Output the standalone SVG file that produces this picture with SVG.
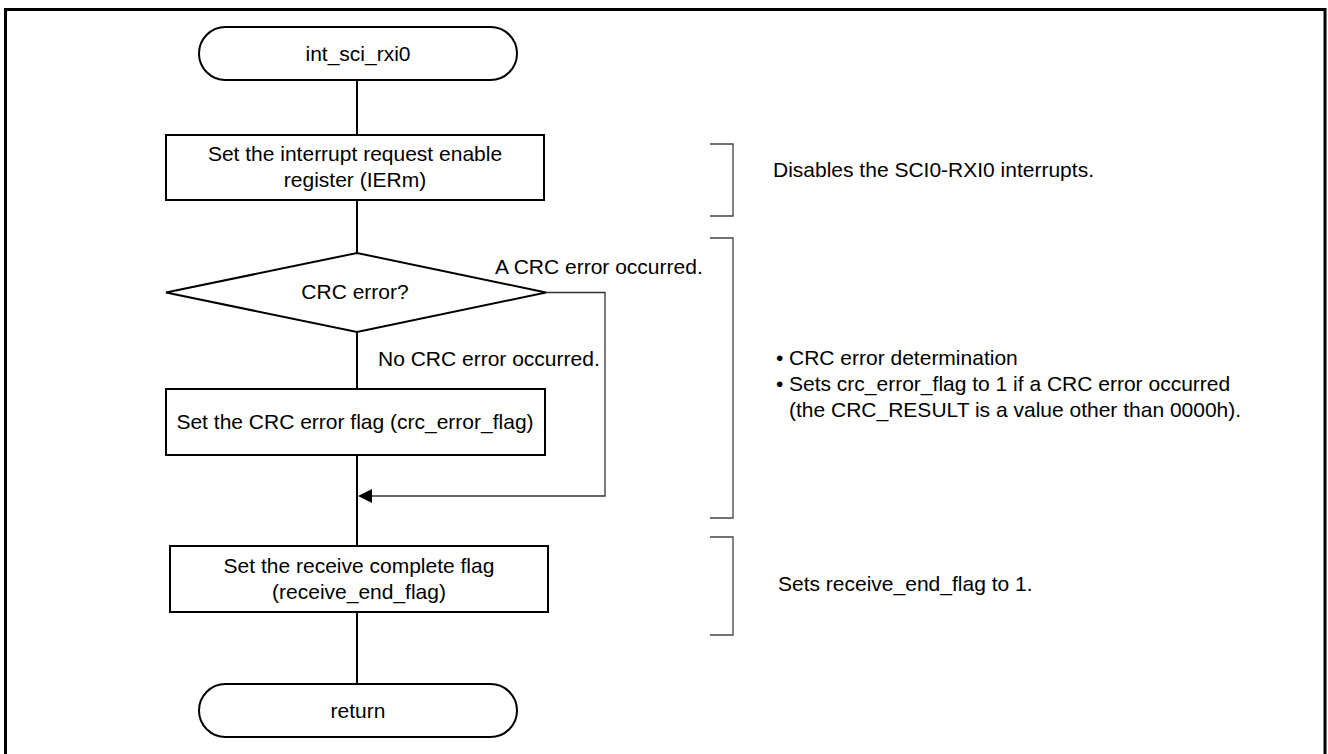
<svg xmlns="http://www.w3.org/2000/svg" width="1328" height="754" viewBox="0 0 1328 754">
  <style>
    text { font-family: "Liberation Sans", Arial, sans-serif; font-size: 21px; fill: #000; }
    .c { text-anchor: middle; }
    .shape { fill: #fff; stroke: #000; stroke-width: 2; }
    .flow { fill: none; stroke: #000; stroke-width: 2; }
    .thin { fill: none; stroke: #333; stroke-width: 1.3; }
    .bracket { fill: none; stroke: #444; stroke-width: 1.3; }
  </style>
  <rect width="1328" height="754" fill="#fff"/>
  <!-- frame -->
  <rect x="5.5" y="9.5" width="1319.5" height="770" fill="none" stroke="#000" stroke-width="3"/>

  <!-- connectors -->
  <g id="connectors">
    <line class="flow" x1="357" y1="80" x2="357" y2="135"/>
    <line class="flow" x1="357" y1="200" x2="357" y2="253"/>
    <line class="flow" x1="357" y1="332" x2="357" y2="389"/>
    <line class="flow" x1="357" y1="455" x2="357" y2="546"/>
    <line class="flow" x1="357" y1="612" x2="357" y2="684"/>
    <polyline class="thin" points="546,292.5 605,292.5 605,496 371,496"/>
    <polygon points="358,496 372,489 372,503" fill="#000"/>
  </g>

  <g id="start">
    <rect class="shape" x="199" y="27" width="318" height="53" rx="26.5"/>
    <text class="c" x="358" y="61">int_sci_rxi0</text>
  </g>

  <g id="set-ier">
    <rect class="shape" x="166" y="135" width="378" height="65"/>
    <text class="c" x="355" y="161">Set the interrupt request enable</text>
    <text class="c" x="355" y="187">register (IERm)</text>
  </g>

  <g id="crc-check">
    <polygon class="shape" points="166,292.5 357,253 546,292.5 357,332"/>
    <text class="c" x="355" y="299">CRC error?</text>
    <text x="495" y="274">A CRC error occurred.</text>
    <text x="378" y="366">No CRC error occurred.</text>
  </g>

  <g id="set-crc-flag">
    <rect class="shape" x="166" y="389" width="379" height="66"/>
    <text class="c" x="355" y="429">Set the CRC error flag (crc_error_flag)</text>
  </g>

  <g id="set-receive-flag">
    <rect class="shape" x="170" y="546" width="378" height="66"/>
    <text class="c" x="359" y="573">Set the receive complete flag</text>
    <text class="c" x="359" y="599">(receive_end_flag)</text>
  </g>

  <g id="return">
    <rect class="shape" x="199" y="684" width="318" height="53" rx="26.5"/>
    <text class="c" x="358" y="718">return</text>
  </g>

  <!-- notes -->
  <g id="note-ier">
    <polyline class="bracket" points="710,144 733,144 733,216 710,216"/>
    <text x="773" y="177">Disables the SCI0-RXI0 interrupts.</text>
  </g>
  <g id="note-crc">
    <polyline class="bracket" points="710,238 733,238 733,518 710,518"/>
    <text x="776" y="365">•</text>
    <text x="789" y="365">CRC error determination</text>
    <text x="776" y="391">•</text>
    <text x="789" y="391">Sets crc_error_flag to 1 if a CRC error occurred</text>
    <text x="789" y="417">(the CRC_RESULT is a value other than 0000h).</text>
  </g>
  <g id="note-receive">
    <polyline class="bracket" points="710,537 733,537 733,635 710,635"/>
    <text x="778" y="591">Sets receive_end_flag to 1.</text>
  </g>
</svg>
